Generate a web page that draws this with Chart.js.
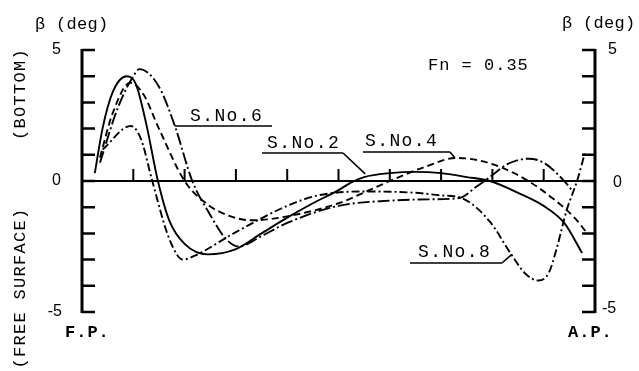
<!DOCTYPE html>
<html>
<head>
<meta charset="utf-8">
<script src="https://cdn.jsdelivr.net/npm/chart.js@4/dist/chart.umd.min.js"></script>
<style>
  html, body { margin: 0; padding: 0; background: #fff; }
  #wrap { width: 639px; height: 371px; }
</style>
</head>
<body>
<div id="wrap"><canvas id="c" width="639" height="371"></canvas></div>
<script>
// Drift angle distribution along the hull, F.P. (0) to A.P. (10), Fn = 0.35
const stationTicks = [1, 2, 3, 4, 5, 6, 7, 8, 9];
const betaTicks = [-5, -4, -3, -2, -1, 0, 1, 2, 3, 4, 5];
const betaLabels = ['5', '0', '-5'];

const sNo2Station = [0.25, 0.4, 0.6, 0.87, 1.05, 1.25, 1.48, 1.7, 2.0, 2.45, 3.0, 3.5, 4.0, 4.5, 5.0, 5.25, 5.5, 6.0, 6.5, 7.0, 7.5, 7.95, 8.5, 9.0, 9.4, 9.75];
const sNo2Beta    = [0.3, 2.0, 3.4, 4.0, 3.7, 2.2, 0.0, -1.5, -2.4, -2.8, -2.6, -2.0, -1.4, -0.85, -0.35, -0.05, 0.15, 0.3, 0.35, 0.3, 0.15, 0.0, -0.45, -0.95, -1.6, -2.75];

const sNo4Station = [0.35, 0.6, 0.94, 1.2, 1.5, 2.0, 2.45, 2.9, 3.3, 4.0, 5.0, 5.6, 6.0, 6.7, 7.3, 7.7, 8.2, 8.7, 9.2, 9.6, 9.85];
const sNo4Beta    = [0.9, 2.6, 3.75, 3.3, 2.0, 0.0, -0.9, -1.35, -1.5, -1.35, -0.85, -0.35, 0.0, 0.55, 0.88, 0.8, 0.5, 0.0, -0.7, -1.4, -2.0];

const sNo6Station = [0.35, 0.7, 1.0, 1.12, 1.5, 1.81, 2.15, 2.5, 2.8, 3.05, 3.5, 4.0, 5.0, 6.0, 6.8, 7.35, 7.7, 7.95, 8.3, 8.7, 9.0, 9.4, 9.55];
const sNo6Beta    = [0.7, 2.8, 4.0, 4.27, 3.6, 2.1, 0.0, -1.3, -2.2, -2.5, -2.1, -1.6, -0.95, -0.75, -0.7, -0.65, -0.2, 0.15, 0.65, 0.85, 0.7, 0.0, -0.35];

const sNo8Station = [0.4, 0.95, 1.15, 1.37, 1.7, 1.97, 2.2, 3.0, 4.0, 4.6, 5.5, 6.5, 7.0, 7.4, 7.95, 8.35, 8.65, 8.9, 9.1, 9.25, 9.45, 9.65, 9.8];
const sNo8Beta    = [1.2, 2.1, 1.6, 0.0, -2.2, -3.0, -2.85, -1.95, -0.95, -0.55, -0.4, -0.45, -0.55, -0.65, -1.55, -2.75, -3.55, -3.8, -3.5, -2.6, -1.1, 0.0, 1.05];

function points(xs, ys) {
  return xs.map((x, i) => ({ x: x, y: ys[i] }));
}

const MONO = '"Liberation Mono", "DejaVu Sans Mono", monospace';
const SANS = '"Liberation Sans", Arial, sans-serif';

// Frame, ticks and annotations drawn against the chart's own scales
const framePlugin = {
  id: 'frame',
  afterDraw(chart) {
    const ctx = chart.ctx;
    const xs = chart.scales.x, ys = chart.scales.y;
    const xL = xs.getPixelForValue(0), xR = xs.getPixelForValue(10);
    const yTop = ys.getPixelForValue(5), yBot = ys.getPixelForValue(-5), y0 = ys.getPixelForValue(0);

    ctx.save();
    ctx.strokeStyle = '#000';
    ctx.fillStyle = '#000';
    ctx.lineCap = 'butt';

    // vertical axes
    ctx.lineWidth = 3;
    ctx.beginPath();
    ctx.moveTo(xL, yTop - 1); ctx.lineTo(xL, yBot + 1);
    ctx.moveTo(xR, yTop - 1); ctx.lineTo(xR, yBot + 1);
    ctx.stroke();

    // beta ticks, pointing inward
    ctx.lineWidth = 2.5;
    ctx.beginPath();
    betaTicks.forEach(v => {
      const y = ys.getPixelForValue(v);
      ctx.moveTo(xL, y); ctx.lineTo(xL + 13, y);
      ctx.moveTo(xR, y); ctx.lineTo(xR - 13, y);
    });
    ctx.stroke();

    // zero line and station ticks
    ctx.lineWidth = 2;
    ctx.beginPath();
    ctx.moveTo(xL, y0); ctx.lineTo(xR, y0);
    stationTicks.forEach(s => {
      const x = xs.getPixelForValue(s);
      ctx.moveTo(x, y0); ctx.lineTo(x, y0 - 12);
    });
    ctx.stroke();

    // axis numbers
    ctx.font = '16px ' + SANS;
    ctx.textBaseline = 'middle';
    ctx.textAlign = 'right';
    ctx.fillText(betaLabels[0], 61, ys.getPixelForValue(5));
    ctx.fillText(betaLabels[1], 61, ys.getPixelForValue(0));
    ctx.fillText(betaLabels[2], 62, ys.getPixelForValue(-5));
    ctx.textAlign = 'left';
    ctx.fillText(betaLabels[0], 608, ys.getPixelForValue(5));
    ctx.fillText(betaLabels[1], 613, ys.getPixelForValue(0) + 2);
    ctx.fillText(betaLabels[2], 602, ys.getPixelForValue(-5) - 3);

    // axis titles
    ctx.font = '17px ' + MONO;
    ctx.letterSpacing = '0.3px';
    ctx.fillText('\u03B2 (deg)', 35, 24);
    ctx.fillText('\u03B2 (deg)', 562, 23);

    ctx.font = 'bold 17px ' + MONO;
    ctx.letterSpacing = '1px';
    ctx.fillText('F.P.', 65, 333);
    ctx.fillText('A.P.', 568, 333);

    ctx.font = '17px ' + MONO;
    ctx.letterSpacing = '1.3px';
    ctx.textAlign = 'center';
    ctx.save();
    ctx.translate(20, 94);
    ctx.rotate(-Math.PI / 2);
    ctx.fillText('(BOTTOM)', 0, 0);
    ctx.restore();
    ctx.save();
    ctx.translate(20, 288);
    ctx.rotate(-Math.PI / 2);
    ctx.fillText('(FREE SURFACE)', 0, 0);
    ctx.restore();

    ctx.textAlign = 'left';
    ctx.letterSpacing = '1px';
    ctx.fillText('Fn = 0.35', 428, 65);

    // series labels with leader lines
    ctx.font = '18px ' + MONO;
    ctx.letterSpacing = '1.4px';
    ctx.lineWidth = 1.6;
    const labels = [
      { text: 'S.No.6', tx: 190, ty: 116, ux0: 184, ux1: 272, uy: 126, sx: 1.81, sy: 2.1 },
      { text: 'S.No.2', tx: 267, ty: 143, ux0: 262, ux1: 343, uy: 153, sx: 5.52, sy: 0.27 },
      { text: 'S.No.4', tx: 365, ty: 141, ux0: 363, ux1: 450, uy: 152, sx: 7.27, sy: 0.88 },
      { text: 'S.No.8', tx: 418, ty: 252, ux0: 410, ux1: 502, uy: 263, sx: 8.38, sy: -2.8 }
    ];
    labels.forEach(l => {
      ctx.fillText(l.text, l.tx, l.ty);
      const ax = xs.getPixelForValue(l.sx), ay = ys.getPixelForValue(l.sy);
      ctx.beginPath();
      ctx.moveTo(l.ux0, l.uy); ctx.lineTo(l.ux1, l.uy);
      if (ax < l.ux0) { ctx.moveTo(l.ux0, l.uy); ctx.lineTo(ax, ay); }
      else { ctx.moveTo(l.ux1, l.uy); ctx.lineTo(ax, ay); }
      ctx.stroke();
    });
    ctx.restore();
  }
};

const common = {
  borderColor: '#000',
  borderWidth: 1.9,
  pointRadius: 0,
  fill: false,
  cubicInterpolationMode: 'monotone'
};

new Chart(document.getElementById('c'), {
  type: 'line',
  data: {
    datasets: [
      Object.assign({ label: 'S.No.2', data: points(sNo2Station, sNo2Beta), borderDash: [] }, common),
      Object.assign({ label: 'S.No.4', data: points(sNo4Station, sNo4Beta), borderDash: [7, 4] }, common),
      Object.assign({ label: 'S.No.6', data: points(sNo6Station, sNo6Beta), borderDash: [12, 3, 2, 3] }, common),
      Object.assign({ label: 'S.No.8', data: points(sNo8Station, sNo8Beta), borderDash: [8, 3, 2, 3] }, common)
    ]
  },
  options: {
    responsive: false,
    devicePixelRatio: 1,
    animation: false,
    layout: { padding: { left: 82, right: 44, top: 50, bottom: 59 } },
    plugins: { legend: { display: false }, tooltip: { enabled: false } },
    scales: {
      x: { type: 'linear', min: 0, max: 10, display: false },
      y: { type: 'linear', min: -5, max: 5, display: false }
    }
  },
  plugins: [framePlugin]
});
</script>
</body>
</html>
